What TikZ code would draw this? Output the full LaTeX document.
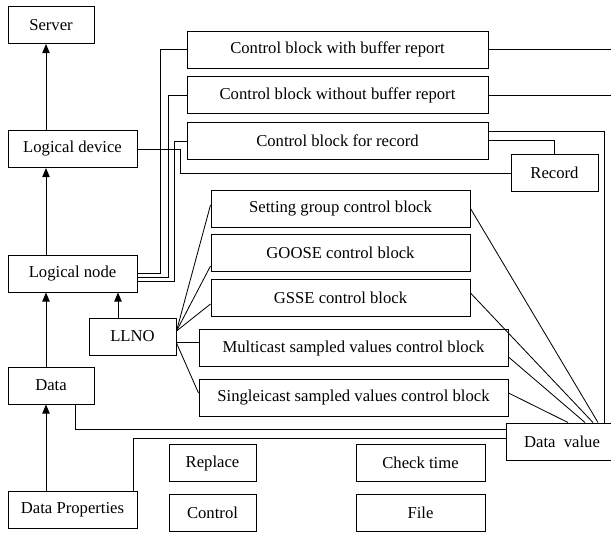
\documentclass[tikz,border=0pt]{standalone}
\usepackage{fontspec}
\setmainfont{Liberation Serif}
\usepackage{tikz}
\usetikzlibrary{arrows.meta, positioning}

\begin{document}
\begin{tikzpicture}[x=0.6pt, y=-0.6pt, >={Triangle[length=5.5pt, width=4.5pt]},
      line width=0.6pt,
      blk/.style={draw, minimum height=22.2pt, inner sep=1pt,
                  font=\fontsize{10}{12}\selectfont, align=center},
      arr/.style={->},
      wire/.style={line width=0.5pt}]

    \useasboundingbox (0,0) rectangle (611,534);

    % class hierarchy (left column)
    \node[blk, minimum width=51.6pt] (server) at (51, 25) {Server};
    \node[blk, minimum width=77.4pt] (ldev) at (72.5, 149) {Logical device};
    \node[blk, minimum width=77.4pt] (lnode) at (72.5, 273.5) {Logical node};
    \node[blk, minimum width=51.6pt] (data) at (51, 385.5) {Data};
    \node[blk, minimum width=77.4pt] (dprop) at (72.5, 509.5) {Data Properties};
    \node[blk, minimum width=52.2pt] (llno) at (132.5, 336.5) {LLNO};

    \coordinate (spine) at (46, 0);
    \coordinate (redge) at (611, 0);

    \draw[arr] (ldev.north -| spine) -- (server.south -| spine);
    \draw[arr] (lnode.north -| spine) -- (ldev.south -| spine);
    \draw[arr] (data.north -| spine) -- (lnode.south -| spine);
    \draw[arr] (dprop.north -| spine) -- (data.south -| spine);
    \draw[arr] ([xshift=-8.7pt]llno.north) -- ([xshift=-8.7pt]llno.north |- lnode.south);

    % report and log control blocks
    \node[blk, minimum width=180.6pt] (brcb) at (337.5, 49.5) {Control block with buffer report};
    \node[blk, minimum width=180.6pt] (urcb) at (337.5, 95) {Control block without buffer report};
    \node[blk, minimum width=180.6pt] (lcb) at (337.5, 141) {Control block for record};
    \node[blk, minimum width=52.2pt] (rec) at (554.5, 173) {Record};

    \draw[wire] (brcb.west) -- ++(-26, 0) |- (lnode.east);
    \draw[wire] (urcb.west) -- ++(-18, 0) |- ([yshift=-2.4pt]lnode.east);
    \draw[wire] (lcb.west) -- ++(-12, 0) |- ([yshift=-4.8pt]lnode.east);
    \draw[wire] (ldev.east) -- ++(43, 0) |- (rec.west);
    \draw[wire] (brcb.east) -- (brcb.east -| redge);
    \draw[wire] (urcb.east) -- (urcb.east -| redge);
    \draw[wire] ([yshift=0.6pt]lcb.east) -| (rec.north);

    % LLNO control blocks
    \node[blk, minimum width=155.4pt] (sgcb) at (340.5, 208.5) {Setting group control block};
    \node[blk, minimum width=155.4pt] (gocb) at (340.5, 252.5) {GOOSE control block};
    \node[blk, minimum width=155.4pt] (gscb) at (340.5, 298) {GSSE control block};
    \node[blk, minimum width=185.4pt] (msv) at (353.5, 348) {Multicast sampled values control block};
    \node[blk, minimum width=185.4pt] (usv) at (353.5, 397.5) {Singleicast sampled values control block};

    \draw[wire] ([yshift=3.3pt]llno.east) -- ([yshift=2.1pt]sgcb.west);
    \draw[wire] ([yshift=3.3pt]llno.east) -- ([yshift=-8.1pt]gocb.west);
    \draw[wire] ([yshift=3.3pt]llno.east) -- ([yshift=-3.6pt]gscb.west);
    \draw[wire] ([yshift=-3.3pt]llno.east) -- ([yshift=-3.3pt]llno.east -| msv.west);
    \draw[wire] ([yshift=-3.9pt]llno.east) -- ([yshift=2.7pt]usv.west);

    % data value and services
    \node[blk, minimum width=67.2pt] (dval) at (562, 441.5) {Data~~value};
    \node[blk, minimum width=52.2pt] (repl) at (212.5, 463) {Replace};
    \node[blk, minimum width=52.2pt] (ctrl) at (212.5, 513) {Control};
    \node[blk, minimum width=77.4pt] (chk) at (420.5, 463) {Check time};
    \node[blk, minimum width=77.4pt] (file) at (420.5, 513) {File};

    \draw[wire] ([yshift=6pt]lcb.east) -| ([xshift=25.2pt]dval.north);
    \draw[wire] (sgcb.east) -- ([xshift=21.6pt]dval.north);
    \draw[wire] ([yshift=3pt]gscb.east) -- ([xshift=18.6pt]dval.north);
    \draw[wire] ([yshift=-5.4pt]msv.east) -- ([xshift=13.8pt]dval.north);
    \draw[wire] ([yshift=2.7pt]usv.east) -- ([xshift=3.6pt]dval.north);
    \draw[wire] ([xshift=14.4pt]data.south) |- ([yshift=7.5pt]dval.west);
    \draw[wire] ([xshift=36.3pt]dprop.north) |- ([yshift=2.1pt]dval.west);

\end{tikzpicture}
\end{document}
